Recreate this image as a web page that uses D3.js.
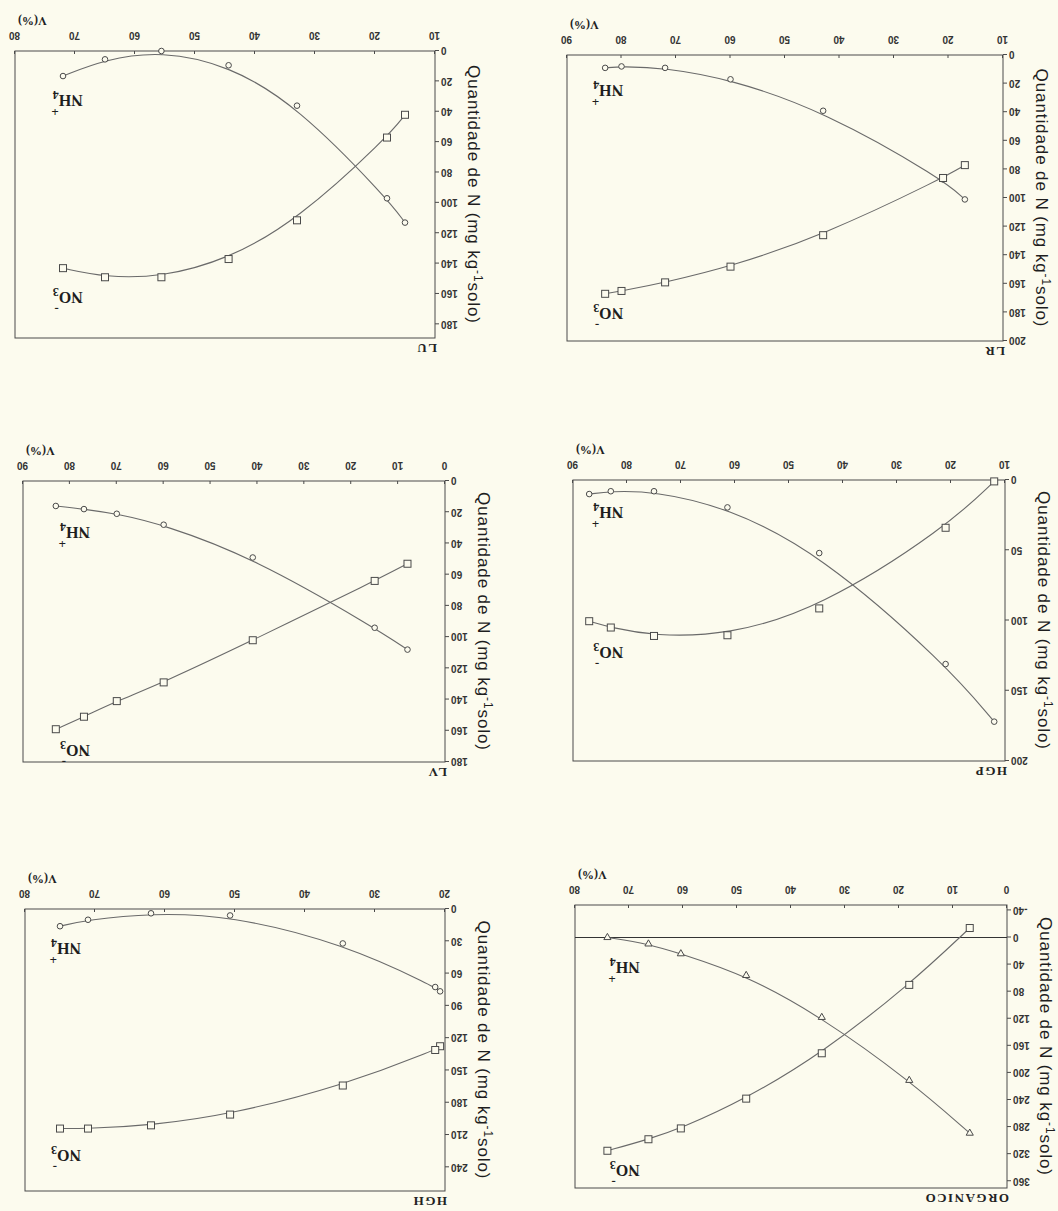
<!DOCTYPE html>
<html>
<head>
<meta charset="utf-8">
<script src="https://cdn.jsdelivr.net/npm/d3@7"></script>
<style>
  body { margin: 0; background: #fcfbee; }
</style>
</head>
<body>
<script>
const W = 1058, H = 1211;

// V(%) values and N (mg/kg), one set per soil
const orgV   = [74, 66.4, 60.4, 48.3, 34.3, 18.1, 6.9];
const orgNH4 = [0, 9.5, 24, 56, 118, 211, 289];
const orgNO3 = [315, 298, 282, 238, 171, 70, -14];

const hghV   = [75, 71, 62, 50.7, 34.6, 21.4, 20.7];
const hghNH4 = [16, 10, 4, 6, 32, 72.5, 76.5];
const hghNO3 = [204, 204, 201, 191, 164, 131, 127.5];

const hgpV   = [87, 83, 75, 61.4, 44.4, 21, 12];
const hgpNH4 = [10, 8, 8, 19.5, 52, 131, 172];
const hgpNO3 = [100.5, 105, 111, 110.5, 91.4, 34, 1];

const lvV   = [83, 77, 70, 60, 41, 15, 8];
const lvNH4 = [16, 18, 21, 28, 49, 94, 108];
const lvNO3 = [159, 151, 141, 129, 102, 64, 53];

const lrV   = [83, 80, 72, 60, 43, 21, 17];
const lrNH4 = [9, 8, 9, 17, 39, 87, 101];
const lrNO3 = [167, 165, 159, 148, 126, 86, 77];

const luV   = [72, 65, 55.6, 44.4, 33, 18, 15];
const luNH4 = [16.5, 5.5, 0, 9.4, 36, 97, 113];
const luNO3 = [143, 149, 149, 137, 111.5, 57, 42];

// tick labels
const orgVTicks = [0, 10, 20, 30, 40, 50, 60, 70, 80];
const orgNTicks = [-40, 0, 40, 80, 120, 160, 200, 240, 280, 320, 360];
const hghVTicks = [20, 30, 40, 50, 60, 70, 80];
const hghNTicks = [0, 30, 60, 90, 120, 150, 180, 210, 240];
const hgpVTicks = [10, 20, 30, 40, 50, 60, 70, 80, 90];
const hgpNTicks = [0, 50, 100, 150, 200];
const lvVTicks  = [0, 10, 20, 30, 40, 50, 60, 70, 80, 90];
const lvNTicks  = [0, 20, 40, 60, 80, 100, 120, 140, 160, 180];
const lrVTicks  = [10, 20, 30, 40, 50, 60, 70, 80, 90];
const lrNTicks  = [0, 20, 40, 60, 80, 100, 120, 140, 160, 180, 200];
const luVTicks  = [10, 20, 30, 40, 50, 60, 70, 80];
const luNTicks  = [0, 20, 40, 60, 80, 100, 120, 140, 160, 180];

// the page is drawn upright, then turned over as in the scan
const panels = [
  { name: "ORGANICO", v: orgV, nh4: orgNH4, no3: orgNO3, vDom: [0, 80], nDom: [-48, 370],
    vTicks: orgVTicks, nTicks: orgNTicks, box: { left: 51, right: 483, top: 23, bottom: 306 },
    nh4Lab: [68, 36], no3Lab: [68, 336], zero: true, tri: true },
  { name: "HGH", v: hghV, nh4: hghNH4, no3: hghNO3, vDom: [20, 80], nDom: [0, 262],
    vTicks: hghVTicks, nTicks: hghNTicks, box: { left: 613, right: 1033, top: 20, bottom: 302 },
    nh4Lab: [72, 31.6], no3Lab: [72, 224] },
  { name: "HGP", v: hgpV, nh4: hgpNH4, no3: hgpNO3, vDom: [10, 90], nDom: [0, 200],
    vTicks: hgpVTicks, nTicks: hgpNTicks, box: { left: 53, right: 485, top: 450, bottom: 731 },
    nh4Lab: [80.7, 19], no3Lab: [80.7, 119] },
  { name: "LV", v: lvV, nh4: lvNH4, no3: lvNO3, vDom: [0, 90], nDom: [0, 180],
    vTicks: lvVTicks, nTicks: lvNTicks, box: { left: 613, right: 1035, top: 449, bottom: 730 },
    nh4Lab: [75.7, 29.5], no3Lab: [75.7, 169] },
  { name: "LR", v: lrV, nh4: lrNH4, no3: lrNO3, vDom: [10, 90], nDom: [0, 200],
    vTicks: lrVTicks, nTicks: lrNTicks, box: { left: 55, right: 491, top: 870, bottom: 1156 },
    nh4Lab: [79.7, 21], no3Lab: [79.7, 177] },
  { name: "LU", v: luV, nh4: luNH4, no3: luNO3, vDom: [10, 80], nDom: [0, 189],
    vTicks: luVTicks, nTicks: luNTicks, box: { left: 623, right: 1043, top: 873, bottom: 1160 },
    nh4Lab: [68.7, 29], no3Lab: [68.7, 159] }
];

const ink = "#4a4a4a";

let svg = d3.select("body")
  .append("svg")
    .attr("width", W)
    .attr("height", H);

svg.append("rect").attr("width", W).attr("height", H).attr("fill", "#fcfbee");

let page = svg.append("g").attr("transform", `rotate(180,${W / 2},${H / 2})`);

panels.forEach(p => {
  const b = p.box;
  const x = d3.scaleLinear().domain(p.vDom).range([b.left, b.right]);
  const y = d3.scaleLinear().domain(p.nDom).range([b.bottom, b.top]);
  const g = page.append("g");

  g.append("rect")
    .attr("x", b.left).attr("y", b.top)
    .attr("width", b.right - b.left).attr("height", b.bottom - b.top)
    .attr("fill", "none").attr("stroke", ink).attr("stroke-width", 1);

  const ax = g.append("g").attr("transform", `translate(0,${b.bottom})`)
    .call(d3.axisBottom(x).tickValues(p.vTicks).tickSize(-3).tickPadding(12).tickFormat(d3.format("d")));
  const ay = g.append("g").attr("transform", `translate(${b.left},0)`)
    .call(d3.axisLeft(y).tickValues(p.nTicks).tickSize(4).tickPadding(2).tickFormat(d => d < 0 ? "-" + (-d) : d));
  [ax, ay].forEach(a => {
    a.select(".domain").remove();
    a.selectAll("line").attr("stroke", ink);
    a.selectAll("text").attr("font-family", "Liberation Sans, Arial").attr("font-size", 10)
      .attr("font-weight", "bold").attr("fill", "#333");
  });

  if (p.zero) {
    g.append("line")
      .attr("x1", b.left).attr("x2", b.right)
      .attr("y1", y(0)).attr("y2", y(0))
      .attr("stroke", "#333").attr("stroke-width", 1.2);
  }

  const pts = vals => p.v.map((v, i) => [v, vals[i]]).sort((a, c) => a[0] - c[0]);
  const line = d3.line().x(d => x(d[0])).y(d => y(d[1])).curve(d3.curveBasis);

  [p.nh4, p.no3].forEach(vals => {
    g.append("path").attr("d", line(pts(vals)))
      .attr("fill", "none").attr("stroke", "#6a6a6a").attr("stroke-width", 1.1);
  });

  // NH4 markers
  if (p.tri) {
    g.selectAll(null).data(pts(p.nh4)).join("path")
      .attr("d", d3.symbol(d3.symbolTriangle, 22)())
      .attr("transform", d => `translate(${x(d[0])},${y(d[1])}) rotate(180)`)
      .attr("fill", "#fcfbee").attr("stroke", ink).attr("stroke-width", 1);
  } else {
    g.selectAll(null).data(pts(p.nh4)).join("circle")
      .attr("cx", d => x(d[0])).attr("cy", d => y(d[1])).attr("r", 2.8)
      .attr("fill", "#fcfbee").attr("stroke", ink).attr("stroke-width", 1);
  }
  // NO3 markers
  g.selectAll(null).data(pts(p.no3)).join("rect")
    .attr("x", d => x(d[0]) - 3.5).attr("y", d => y(d[1]) - 3.5)
    .attr("width", 7).attr("height", 7)
    .attr("fill", "#fcfbee").attr("stroke", ink).attr("stroke-width", 1);

  const ion = (pos, main, sub, sup) => {
    const t = g.append("text")
      .attr("x", x(pos[0])).attr("y", y(pos[1]))
      .attr("font-family", "Liberation Serif, Times New Roman").attr("font-weight", "bold")
      .attr("font-size", 16).attr("fill", "#1e1e1e");
    t.append("tspan").text(main);
    t.append("tspan").attr("dy", 4).attr("font-size", 12).text(sub);
    t.append("tspan").attr("dx", -6).attr("dy", -17).attr("font-size", 13).text(sup);
  };
  ion(p.nh4Lab, "NH", "4", "+");
  ion(p.no3Lab, "NO", "3", "-");

  // panel name
  g.append("text")
    .attr("x", b.left - 2).attr("y", b.top - 6)
    .attr("font-family", "Liberation Serif, Times New Roman").attr("font-weight", "bold")
    .attr("font-size", 13).attr("letter-spacing", 1.5).attr("fill", "#222")
    .text(p.name);

  // V(%) axis name
  g.append("text")
    .attr("x", b.right - 3).attr("y", b.bottom + 34)
    .attr("text-anchor", "end")
    .attr("font-family", "Liberation Serif, Times New Roman").attr("font-weight", "bold")
    .attr("font-size", 12).attr("fill", "#222")
    .text("V(%)");

  // N axis name
  const yt = g.append("text")
    .attr("transform", `translate(${b.left - 33},${(b.top + b.bottom) / 2}) rotate(-90)`)
    .attr("text-anchor", "middle")
    .attr("font-family", "Liberation Sans, Arial")
    .attr("font-size", 17).attr("letter-spacing", 0.9).attr("fill", "#1e1e1e");
  yt.append("tspan").text("Quantidade de N (mg kg");
  yt.append("tspan").attr("dy", -6).attr("font-size", 12).text("-1");
  yt.append("tspan").attr("dy", 6).text("solo)");
});
</script>
</body>
</html>
